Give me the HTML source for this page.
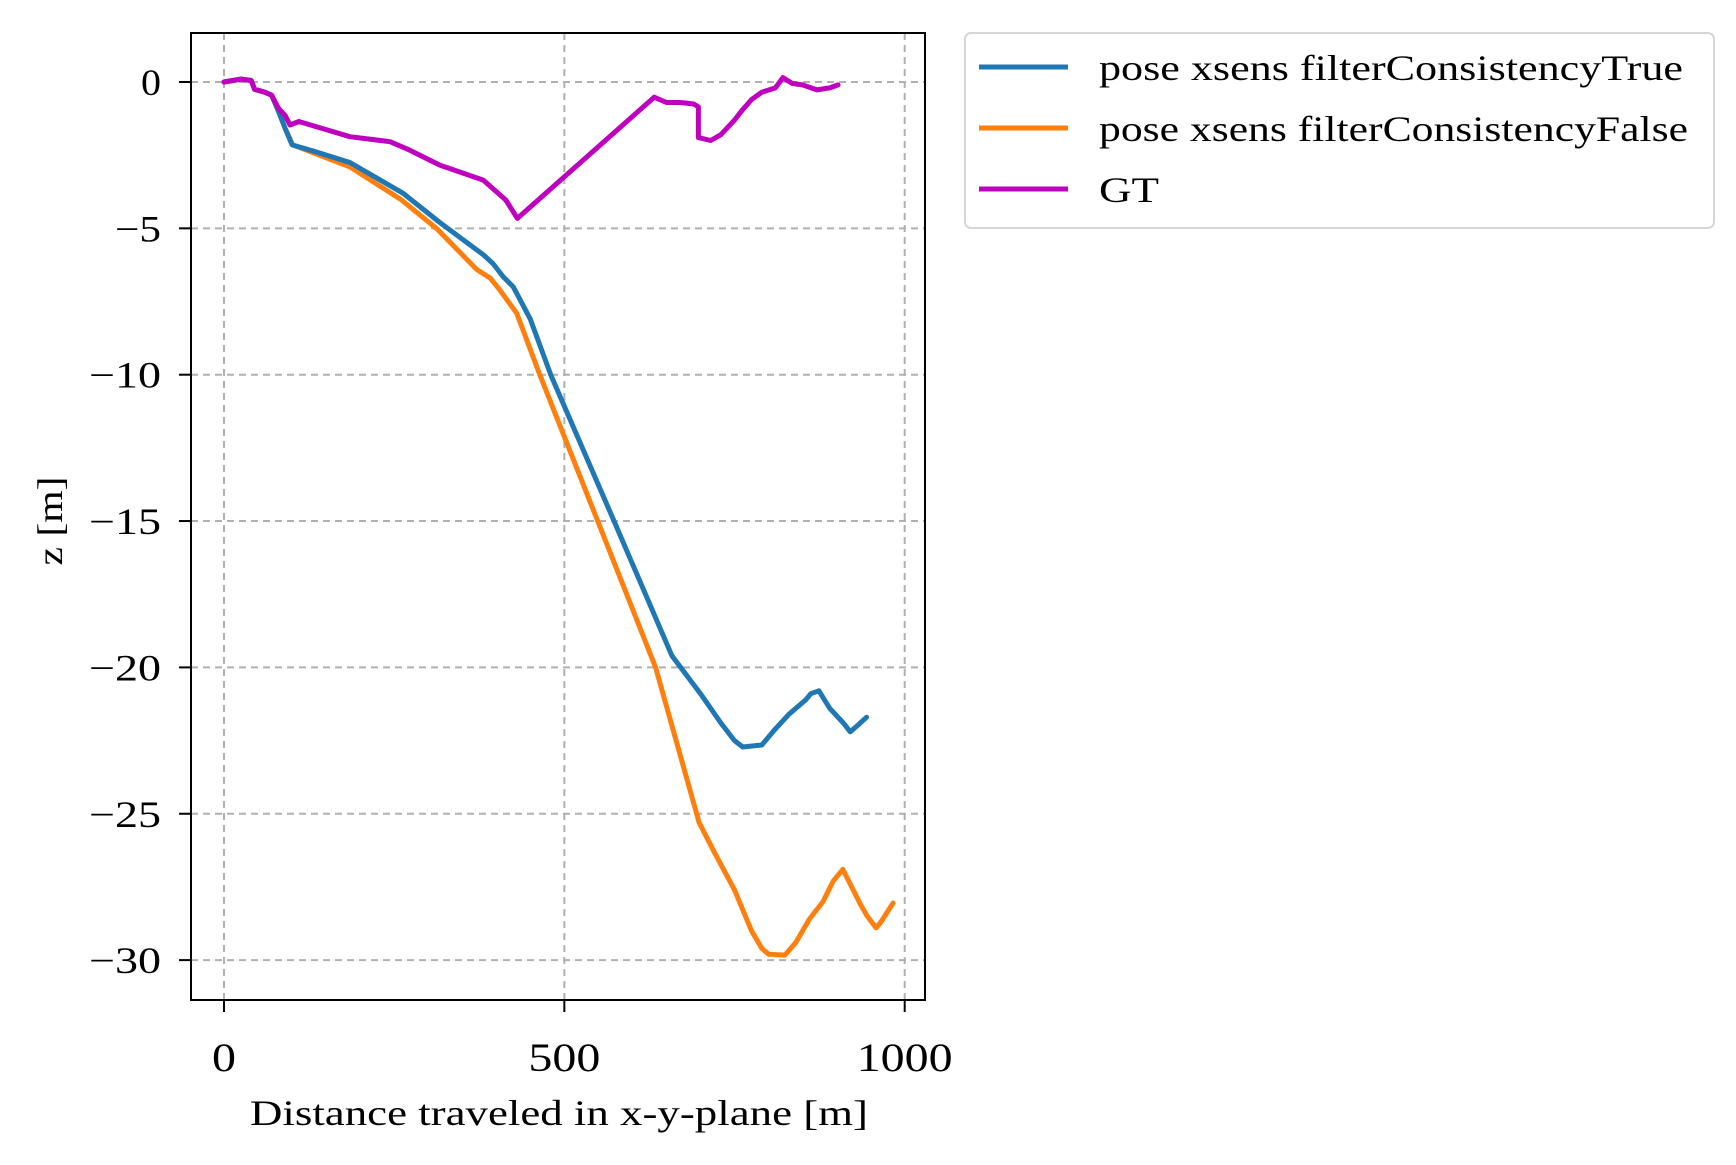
<!DOCTYPE html>
<html><head><meta charset="utf-8"><style>
body{margin:0;background:#fff}
svg{display:block;font-family:"Liberation Serif",serif}
</style></head><body>
<svg id="chart" width="1736" height="1165" viewBox="0 0 1736 1165">
<g id="grid"></g>
<g id="series"></g>
<rect x="191" y="33" width="734" height="967" fill="none" stroke="#000" stroke-width="2"/>
<g id="ticks"></g>
<text x="559" y="1125" font-size="36" text-anchor="middle" textLength="618" lengthAdjust="spacingAndGlyphs">Distance traveled in x-y-plane [m]</text>
<text transform="translate(62,521) rotate(-90)" font-size="36" text-anchor="middle" textLength="89" lengthAdjust="spacingAndGlyphs">z [m]</text>
<g>
<rect x="965" y="33" width="749" height="195" rx="6" fill="#fff" stroke="#d6d6d6" stroke-width="2"/>
<line x1="979" y1="67" x2="1068" y2="67" stroke="#1f77b4" stroke-width="5"/>
<text x="1099" y="80" font-size="36" textLength="584" lengthAdjust="spacingAndGlyphs">pose xsens filterConsistencyTrue</text>
<line x1="979" y1="128" x2="1068" y2="128" stroke="#ff7f0e" stroke-width="5"/>
<text x="1099" y="141" font-size="36" textLength="589" lengthAdjust="spacingAndGlyphs">pose xsens filterConsistencyFalse</text>
<line x1="979" y1="189" x2="1068" y2="189" stroke="#bf00bf" stroke-width="5"/>
<text x="1099" y="202" font-size="36" textLength="60" lengthAdjust="spacingAndGlyphs">GT</text>
</g>
</svg>
<script>
const xTicks=[0,500,1000];
const yTicks=[0,-5,-10,-15,-20,-25,-30];
const yTickLabels=["0","\u22125","\u221210","\u221215","\u221220","\u221225","\u221230"];
const gtX=[0,25,40,45,60,70,80,90,97,110,185,244,270,317,381,393,414,431,632,650,670,690,697,697,715,730,750,760,775,790,810,821,835,850,871,890,902];
const gtY=[0,0.1,0.05,-0.25,-0.35,-0.45,-0.9,-1.15,-1.47,-1.35,-1.87,-2.04,-2.3,-2.84,-3.35,-3.6,-4.03,-4.66,-0.52,-0.7,-0.7,-0.75,-0.85,-1.9,-2.0,-1.8,-1.3,-1.0,-0.6,-0.35,-0.2,0.15,-0.05,-0.1,-0.27,-0.2,-0.1];
const trueX=[0,25,40,45,60,70,80,90,100,130,185,263,317,381,395,410,425,450,480,573,658,700,730,750,762,790,810,830,855,862,874,890,910,920,930,944];
const trueY=[0,0.1,0.05,-0.25,-0.35,-0.45,-1.0,-1.6,-2.15,-2.35,-2.75,-3.8,-4.8,-5.9,-6.2,-6.65,-7.0,-8.1,-10,-15,-19.6,-20.9,-21.9,-22.5,-22.72,-22.65,-22.1,-21.6,-21.1,-20.9,-20.8,-21.4,-21.9,-22.2,-22.0,-21.7];
const falseX=[0,25,40,45,60,70,80,90,101,185,259,312,371,391,405,430,464,549,634,698,720,750,775,790,800,824,840,860,880,895,909,920,935,945,958,965,983];
const falseY=[0,0.1,0.05,-0.25,-0.35,-0.45,-1.0,-1.6,-2.15,-2.9,-4.0,-5.0,-6.4,-6.7,-7.1,-7.9,-10,-15,-20,-25.3,-26.3,-27.6,-29.0,-29.6,-29.8,-29.83,-29.4,-28.6,-28.0,-27.3,-26.9,-27.4,-28.1,-28.5,-28.9,-28.7,-28.05];
const NS="http://www.w3.org/2000/svg";
function sx(v){return 224+v*0.6807;}
function sy(v){return 82-v*29.27;}
function mk(tag,attrs,parent){const e=document.createElementNS(NS,tag);for(const k in attrs)e.setAttribute(k,attrs[k]);parent.appendChild(e);return e;}
const grid=document.getElementById('grid'),ticks=document.getElementById('ticks'),series=document.getElementById('series');
xTicks.forEach(t=>{
  const g=mk('line',{x1:sx(t),x2:sx(t),y1:33,y2:1000,stroke:'#b0b0b0','stroke-width':2,'stroke-dasharray':'7,5'},grid);
  
  
  const tk=mk('line',{x1:sx(t),x2:sx(t),y1:1000,y2:1012,stroke:'#000','stroke-width':2},ticks);
  
  
  const s=String(t);
  const tl=mk('text',{x:sx(t),y:1071,'font-size':40,'text-anchor':'middle',textLength:s.length*24,lengthAdjust:'spacingAndGlyphs'},ticks);
  tl.textContent=s;
  
  
});
yTicks.forEach((t,i)=>{
  const g=mk('line',{x1:191,x2:925,y1:sy(t),y2:sy(t),stroke:'#b0b0b0','stroke-width':2,'stroke-dasharray':'7,5'},grid);
  
  
  const tk=mk('line',{x1:179,x2:191,y1:sy(t),y2:sy(t),stroke:'#000','stroke-width':2},ticks);
  
  
  const s=yTickLabels[i];
  const tl=mk('text',{x:161,y:sy(t)+13,'font-size':37,'text-anchor':'end',textLength:s.length===1?20:(s.length===2?46:72),lengthAdjust:'spacingAndGlyphs'},ticks);
  tl.textContent=s;
  
  
});
function line(xs,ys,color,name){
  const d=xs.map((x,i)=>(i?'L':'M')+sx(x).toFixed(1)+','+sy(ys[i]).toFixed(1)).join(' ');
  const p=mk('path',{d:d,fill:'none',stroke:color,'stroke-width':5,'stroke-linejoin':'round','stroke-linecap':'round'},series);
  
  
}
line(falseX,falseY,'#ff7f0e','series-filter-consistency-false');
line(trueX,trueY,'#1f77b4','series-filter-consistency-true');
line(gtX,gtY,'#bf00bf','series-gt');
</script>
</body></html>
